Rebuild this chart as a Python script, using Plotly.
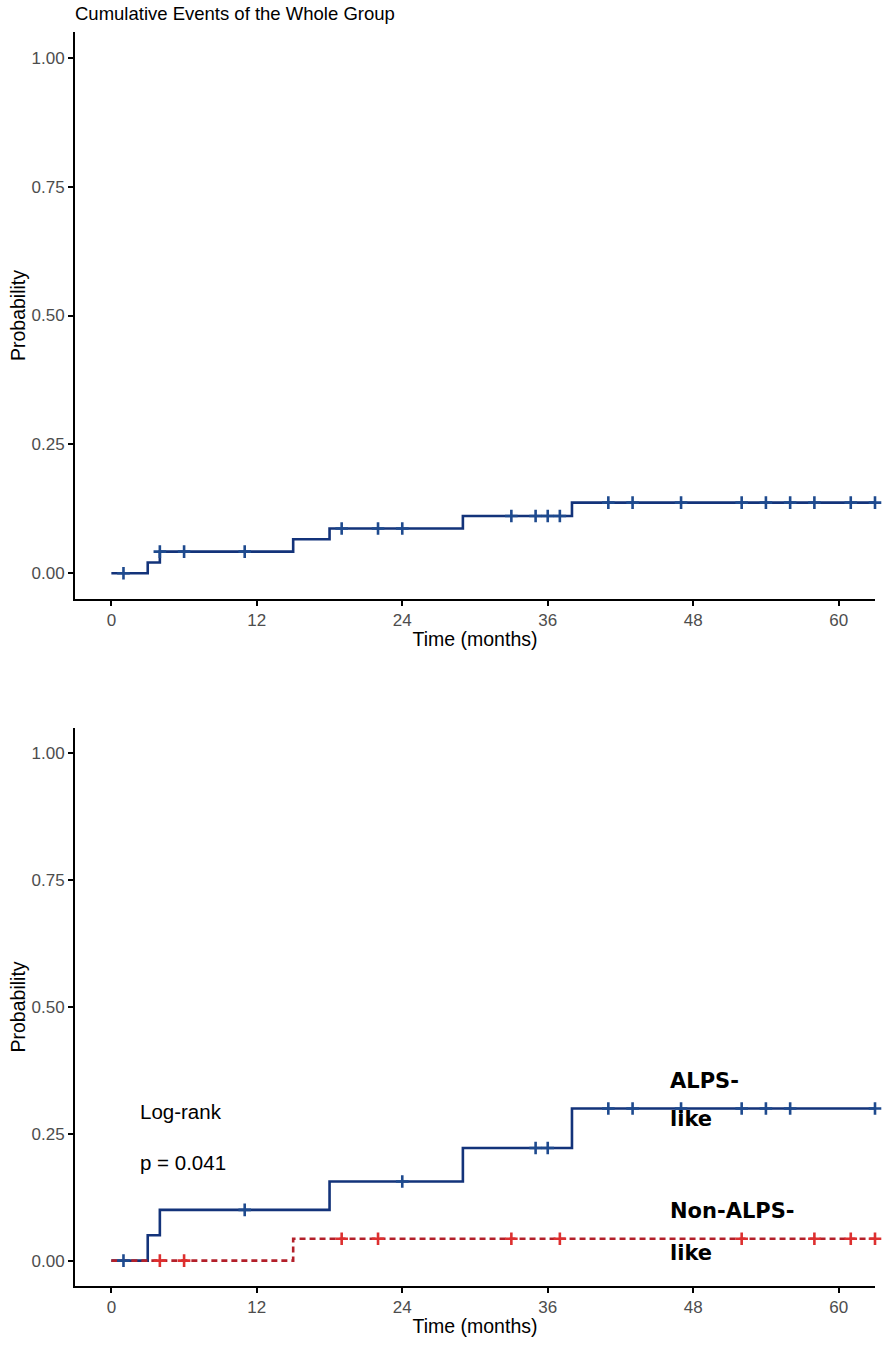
import numpy as np
import plotly.graph_objects as go

# ---------------- data ----------------
# Whole group cumulative incidence (step function)
whole_times = [0, 3, 4, 15, 18, 29, 38, 63]
whole_probs = [0.0, 0.021, 0.042, 0.066, 0.087, 0.111, 0.137, 0.137]
whole_censor = [1, 4, 6, 11, 19, 22, 24, 33, 35, 36, 37, 41, 43, 47, 52, 54, 56, 58, 61, 63]

# ALPS-like group
alps_times = [0, 3, 4, 18, 29, 38, 63]
alps_probs = [0.0, 0.05, 0.10, 0.156, 0.222, 0.30, 0.30]
alps_censor = [1, 11, 24, 35, 36, 41, 43, 47, 52, 54, 56, 63]

# Non-ALPS-like group
non_times = [0, 15, 63]
non_probs = [0.0, 0.043, 0.043]
non_censor = [4, 6, 19, 22, 33, 37, 52, 58, 61, 63]

x_ticks = [0, 12, 24, 36, 48, 60]
y_ticks = [0.0, 0.25, 0.50, 0.75, 1.00]
y_tick_labels = ["0.00", "0.25", "0.50", "0.75", "1.00"]

title_text = "Cumulative Events of the Whole Group"
x_title = "Time (months)"
y_title = "Probability"
logrank_text = "Log-rank"
p_text = "p = 0.041"


def level_at(times, probs, t):
    idx = np.searchsorted(np.asarray(times), np.asarray(t), side="right") - 1
    return np.asarray(probs)[idx]


BLUE_LINE = "#13337A"
BLUE_MARK = "#1E4A8E"
RED_LINE = "#B3202A"
RED_MARK = "#DD2F2F"

FIG_W, FIG_H = 886, 1347

fig = go.Figure()

def censor_trace(times, probs, censor, color, xa, ya):
    return go.Scatter(x=censor, y=level_at(times, probs, censor), mode="markers",
                      marker=dict(symbol="cross-thin", size=9, line=dict(color=color, width=2.6)),
                      xaxis=xa, yaxis=ya, showlegend=False, hoverinfo="skip", cliponaxis=False)

# ---- top panel ----
fig.add_trace(go.Scatter(x=whole_times, y=whole_probs, mode="lines", line_shape="hv",
                         line=dict(color=BLUE_LINE, width=2.6), xaxis="x", yaxis="y",
                         showlegend=False, hoverinfo="skip"))
fig.add_trace(censor_trace(whole_times, whole_probs, whole_censor, BLUE_MARK, "x", "y"))

# ---- bottom panel ----
fig.add_trace(go.Scatter(x=alps_times, y=alps_probs, mode="lines", line_shape="hv",
                         line=dict(color=BLUE_LINE, width=2.6), xaxis="x2", yaxis="y2",
                         name="ALPS-like", showlegend=False, hoverinfo="skip"))
fig.add_trace(go.Scatter(x=non_times, y=non_probs, mode="lines", line_shape="hv",
                         line=dict(color=RED_LINE, width=2.6, dash="6px,4px"), xaxis="x2", yaxis="y2",
                         name="Non-ALPS-like", showlegend=False, hoverinfo="skip"))
fig.add_trace(censor_trace(alps_times, alps_probs, alps_censor, BLUE_MARK, "x2", "y2"))
fig.add_trace(censor_trace(non_times, non_probs, non_censor, RED_MARK, "x2", "y2"))

tickfont = dict(family="Liberation Sans, Arial, sans-serif", size=17, color="#4D4D4D")
titlefont = dict(family="Liberation Sans, Arial, sans-serif", size=19.5, color="#000000")

def xaxis_cfg(anchor):
    return dict(range=[-3, 63], tickvals=x_ticks, ticktext=[str(v) for v in x_ticks],
                showline=True, linecolor="black", linewidth=1.8, ticks="outside",
                ticklen=5, tickwidth=1.5, tickcolor="black", showgrid=False, zeroline=False,
                tickfont=tickfont, title=dict(text=x_title, font=titlefont, standoff=3),
                anchor=anchor, domain=[0, 1], automargin=False)

def yaxis_cfg(anchor, domain):
    return dict(range=[-0.05, 1.05], tickvals=y_ticks, ticktext=y_tick_labels,
                showline=True, linecolor="black", linewidth=1.8, ticks="outside",
                ticklen=5, tickwidth=1.5, tickcolor="black", showgrid=False, zeroline=False,
                tickfont=tickfont, title=dict(text=y_title, font=titlefont, standoff=1),
                anchor=anchor, domain=domain, automargin=False)

fig.update_layout(
    width=FIG_W, height=FIG_H,
    margin=dict(l=75, r=11, t=32, b=61, autoexpand=False),
    paper_bgcolor="white", plot_bgcolor="white",
    xaxis=xaxis_cfg("y"),
    yaxis=yaxis_cfg("x", [0.5478, 1.0]),
    xaxis2=xaxis_cfg("y2"),
    yaxis2=yaxis_cfg("x2", [0.0, 0.445]),
    title=dict(text=title_text, x=75 / FIG_W, xanchor="left", xref="container",
               y=1 - 14 / FIG_H, yanchor="middle", yref="container", automargin=False,
               font=dict(family="Liberation Sans, Arial, sans-serif", size=18.5, color="#000000")),
)

ann_font = dict(family="Liberation Sans, Arial, sans-serif", size=20.5, color="#000000")
lab_font = dict(family="DejaVu Sans, sans-serif", size=21, color="#000000", weight="bold")

annotations = [
    dict(x=2.2, y=0.294, text=logrank_text, font=ann_font),
    dict(x=2.2, y=0.194, text=p_text, font=ann_font),
    dict(x=45.9, y=0.355, text="ALPS-", font=lab_font),
    dict(x=45.9, y=0.280, text="like", font=lab_font),
    dict(x=45.9, y=0.098, text="Non-ALPS-", font=lab_font),
    dict(x=45.9, y=0.016, text="like", font=lab_font),
]
for a in annotations:
    fig.add_annotation(xref="x2", yref="y2", xanchor="left", yanchor="middle",
                       showarrow=False, **a)

# remove the browser's default 8px body margin so the figure fills the window exactly
fig.write_html("out.html", config={"displayModeBar": False},
               post_script="document.body.style.margin='0';document.body.style.overflow='hidden';")
